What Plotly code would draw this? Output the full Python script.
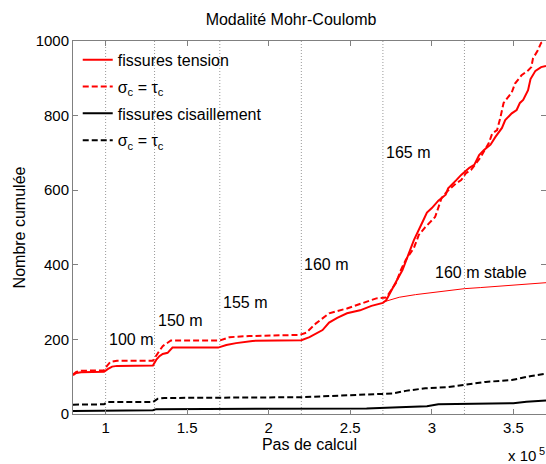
import plotly.graph_objects as go

# x values in units of 10^5 calculation steps
x_tension = [0.80, 0.82, 0.85, 0.99, 1.015, 1.04, 1.07, 1.29, 1.31, 1.33, 1.35, 1.38, 1.41, 1.69, 1.74, 1.80, 1.90,
             2.20, 2.25, 2.29, 2.33, 2.37, 2.42, 2.48, 2.56, 2.63, 2.70, 2.72, 2.75, 2.78, 2.82, 2.86, 2.89, 2.94,
             2.97, 3.00, 3.04, 3.085, 3.10, 3.15, 3.18, 3.23, 3.26, 3.29, 3.32, 3.36, 3.39, 3.43, 3.45, 3.49,
             3.52, 3.54, 3.56, 3.59, 3.605, 3.635, 3.67, 3.70]
y_tension = [104, 110, 112, 113, 121, 127, 129, 130, 145, 155, 161, 164, 178, 178, 185, 190, 196,
             198, 206, 215, 225, 245, 258, 270, 278, 290, 298, 305, 328, 354, 386, 432, 466, 512,
             540, 552, 572, 588, 605, 627, 641, 660, 668, 694, 708, 722, 743, 767, 788, 806,
             815, 834, 842, 868, 898, 920, 930, 933]

x_tension_eq = [0.80, 0.82, 0.85, 0.99, 1.01, 1.03, 1.07, 1.29, 1.32, 1.35, 1.40, 1.70, 1.76, 1.88, 2.19, 2.23,
                2.29, 2.37, 2.48, 2.56, 2.66, 2.72, 2.76, 2.78, 2.81, 2.84, 2.89, 2.92, 2.96, 3.02, 3.06, 3.09,
                3.15, 3.18, 3.21, 3.24, 3.30, 3.35, 3.37, 3.40, 3.42, 3.44, 3.49, 3.51, 3.55, 3.59, 3.61, 3.62,
                3.65, 3.67, 3.69]
y_tension_eq = [106, 113, 116, 117, 130, 140, 143, 143, 163, 182, 197, 197, 206, 209, 212, 218,
                243, 270, 283, 295, 310, 312, 340, 351, 386, 413, 445, 480, 501, 528, 579, 595,
                619, 627, 646, 654, 689, 727, 752, 761, 794, 834, 862, 886, 908, 921, 930, 953,
                975, 995, 1000]

x_stable = [2.70, 2.80, 2.90, 3.00, 3.10, 3.20, 3.30, 3.40, 3.50, 3.60, 3.70]
y_stable = [300, 313, 320, 326, 331, 336, 339, 342, 345, 348, 352]

x_shear = [0.80, 0.99, 1.01, 1.29, 1.31, 2.20, 2.45, 2.60, 2.80, 2.97, 3.04, 3.30, 3.50, 3.58, 3.70]
y_shear = [8, 8, 10, 10, 13, 13, 14, 15, 18, 21, 26, 27, 29, 33, 36]

x_shear_eq = [0.80, 0.99, 1.01, 1.29, 1.32, 1.36, 2.20, 2.50, 2.76, 2.84, 2.96, 3.10, 3.20, 3.33, 3.49, 3.61, 3.70]
y_shear_eq = [25, 26, 32, 32, 41, 43, 45, 50, 55, 62, 69, 72, 78, 86, 91, 102, 108]

stage_x = [1.0, 1.3, 1.7, 2.2, 2.7, 3.2]
stage_labels = ["100 m", "150 m", "155 m", "160 m", "165 m", "160 m stable"]
stage_label_x = [1.0, 1.3, 1.7, 2.2, 2.7, 3.0]
stage_label_y = [200, 250, 300, 400, 700, 380]

x_ticks = [1, 1.5, 2, 2.5, 3, 3.5]
x_tick_text = ["1", "1.5", "2", "2.5", "3", "3.5"]
y_ticks = [0, 200, 400, 600, 800, 1000]

FONT = "Liberation Sans, Arial, Helvetica, sans-serif"
fig = go.Figure()

fig.add_trace(go.Scatter(x=x_tension, y=y_tension, mode="lines", name="fissures tension",
                         line=dict(color="#ff0000", width=2), legendgroup="a"))
fig.add_trace(go.Scatter(x=x_tension_eq, y=y_tension_eq, mode="lines", name="σ<sub>c</sub> = τ<sub>c</sub>",
                         line=dict(color="#ff0000", width=2, dash="6px,3px"), legendgroup="b"))
fig.add_trace(go.Scatter(x=x_shear, y=y_shear, mode="lines", name="fissures cisaillement",
                         line=dict(color="#000000", width=2), legendgroup="c"))
fig.add_trace(go.Scatter(x=x_shear_eq, y=y_shear_eq, mode="lines", name="σ<sub>c</sub> = τ<sub>c</sub>",
                         line=dict(color="#000000", width=2, dash="6px,3px"), legendgroup="d"))
fig.add_trace(go.Scatter(x=x_stable, y=y_stable, mode="lines", showlegend=False,
                         line=dict(color="#ff0000", width=1)))

for sx in stage_x:
    fig.add_shape(type="line", x0=sx, x1=sx, y0=0, y1=1, xref="x", yref="paper",
                  line=dict(color="#999999", width=1, dash="1px,2px"), layer="below")

for t, tx, ty in zip(stage_labels, stage_label_x, stage_label_y):
    fig.add_annotation(x=tx, y=ty, text=t, showarrow=False, xanchor="left", yanchor="middle",
                       xshift=1, font=dict(size=16, color="black", family=FONT))

# axis multiplier "x 10^5"
fig.add_annotation(x=0.983, y=-0.139, xref="paper", yref="paper", text="x 10", showarrow=False,
                   xanchor="right", yanchor="bottom", font=dict(size=15, color="black", family=FONT))
fig.add_annotation(x=0.981, y=-0.121, xref="paper", yref="paper", text="5", showarrow=False,
                   xanchor="left", yanchor="bottom", font=dict(size=11, color="black", family=FONT))

axis_common = dict(showline=True, linecolor="#808080", linewidth=1, mirror="ticks", ticks="inside",
                   ticklen=5, tickcolor="#808080", showgrid=False, zeroline=False,
                   tickfont=dict(size=15, color="black", family=FONT))

fig.update_layout(
    width=546, height=464,
    margin=dict(l=73, r=0, t=41, b=50),
    paper_bgcolor="white", plot_bgcolor="white",
    title=dict(text="Modalité Mohr-Coulomb", x=0.533, xanchor="center", y=0.959, yanchor="middle",
               font=dict(size=16, color="black", family=FONT)),
    xaxis=dict(range=[0.8, 3.7], tickvals=x_ticks, ticktext=x_tick_text,
               title=dict(text="Pas de calcul", standoff=0, font=dict(size=16, color="black", family=FONT)),
               **axis_common),
    yaxis=dict(range=[0, 1000], tickvals=y_ticks,
               title=dict(text="Nombre cumulée", standoff=6, font=dict(size=16, color="black", family=FONT)),
               **axis_common),
    legend=dict(x=0.01, y=0.995, xanchor="left", yanchor="top", bgcolor="rgba(0,0,0,0)",
                traceorder="grouped", tracegroupgap=3,
                font=dict(size=16, color="black", family=FONT)),
    showlegend=True,
)

# remove the default page margin so the 546x464 figure fills the window exactly
fig.write_html("out.html", config={"displayModeBar": False},
               post_script="document.body.style.margin='0';document.body.style.overflow='hidden';")
